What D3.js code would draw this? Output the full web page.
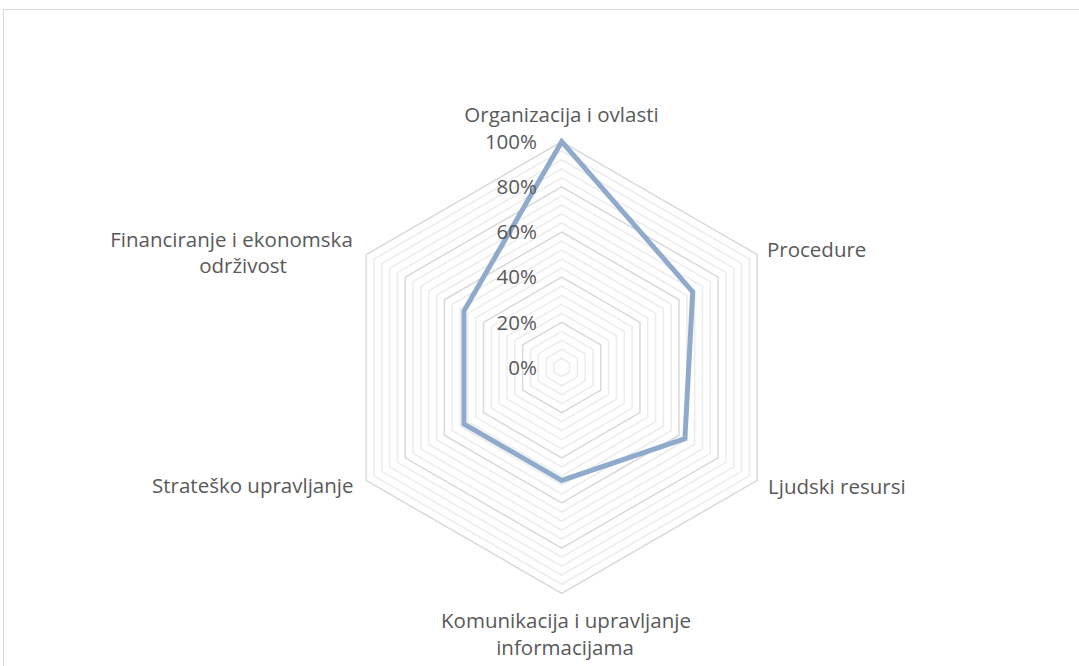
<!DOCTYPE html>
<html><head><meta charset="utf-8">
<script src="https://cdn.jsdelivr.net/npm/d3@7"></script>
<style>body{margin:0;background:#fff}svg{display:block}text{font-family:"Open Sans",sans-serif;fill:#595959}</style>
</head><body>
<svg id="c" width="1079" height="666"></svg>
<script>
const categories = ["Organizacija i ovlasti","Procedure","Ljudski resursi","Komunikacija i upravljanje informacijama","Strateško upravljanje","Financiranje i ekonomska održivost"];
const values = [1.00, 0.67, 0.63, 0.50, 0.50, 0.50];
const tickValues = [0, 0.2, 0.4, 0.6, 0.8, 1.0];
const tickLabels = ["0%","20%","40%","60%","80%","100%"];
const minorStep = 0.04;
const labelLines = [["Organizacija i ovlasti"],["Procedure"],["Ljudski resursi"],["Komunikacija i upravljanje","informacijama"],["Strateško upravljanje"],["Financiranje i ekonomska","održivost"]];

const svg = d3.select("#c");
svg.append("rect").attr("x",3.5).attr("y",9.5).attr("width",1100).attr("height",700)
  .attr("fill","#fff").attr("stroke","#d9d9d9").attr("stroke-width",1);

const cx = 561.7, cy = 367.5, R = 225.8;
const r = d3.scaleLinear().domain([0,1]).range([0,R]);
const n = categories.length;
const angle = i => i*2*Math.PI/n;
const pt = (i,v) => [cx + r(v)*Math.sin(angle(i)), cy - r(v)*Math.cos(angle(i))];
const line = d3.line().curve(d3.curveLinearClosed);

// minor grid
const minors = d3.range(1,26).map(k=>k*minorStep).filter(v=>Math.abs(v/0.2-Math.round(v/0.2))>1e-6);
svg.append("g").selectAll("path").data(minors).join("path")
  .attr("d", v => line(d3.range(n).map(i=>pt(i,v))))
  .attr("fill","none").attr("stroke","#ececec").attr("stroke-width",1.5);
// major grid
svg.append("g").selectAll("path").data(tickValues.filter(v=>v>0)).join("path")
  .attr("d", v => line(d3.range(n).map(i=>pt(i,v))))
  .attr("fill","none").attr("stroke","#d9d9d9").attr("stroke-width",1.5);

// series
svg.append("path").attr("d", line(values.map((v,i)=>pt(i,v))))
  .attr("fill","none").attr("stroke","#8faacb").attr("stroke-width",5).attr("stroke-linejoin","miter");

// tick labels
svg.append("g").selectAll("text").data(tickValues).join("text")
  .attr("x",537).attr("y",v=>cy - r(v) + 7.2)
  .attr("text-anchor","end").attr("font-size",20.5).text((v,i)=>tickLabels[i]);

// category labels (baseline positions per line)
const labelPos = [
  [{x:561.5, y:121.7, a:"middle"}],
  [{x:767, y:256.7, a:"start"}],
  [{x:768, y:494, a:"start"}],
  [{x:566, y:628.3, a:"middle"},{x:565, y:655, a:"middle"}],
  [{x:353.5, y:492.5, a:"end"}],
  [{x:231.5, y:247.3, a:"middle"},{x:243, y:273, a:"middle"}]
];
categories.forEach((c,i)=>{
  const t = svg.append("text").attr("font-size",20.5);
  labelLines[i].forEach((l,j)=>{
    const p = labelPos[i][j];
    t.append("tspan").attr("x",p.x).attr("y",p.y).attr("text-anchor",p.a).text(l);
  });
});
</script>
</body></html>
